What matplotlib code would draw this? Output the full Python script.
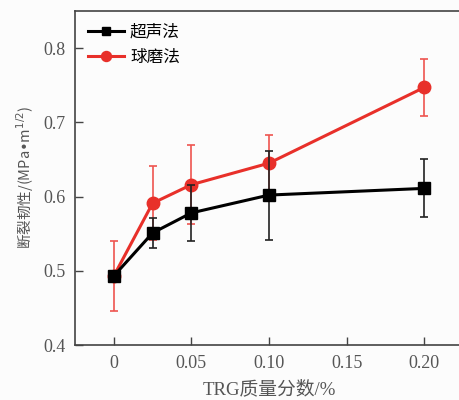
import matplotlib
matplotlib.use("Agg")
import matplotlib.pyplot as plt

x = [0, 0.025, 0.05, 0.10, 0.20]
ultra = [0.493, 0.551, 0.578, 0.602, 0.611]
ultra_err = [0.0, 0.020, 0.038, 0.060, 0.039]
ball = [0.493, 0.591, 0.616, 0.645, 0.747]
ball_err = [0.047, 0.050, 0.053, 0.038, 0.039]
xticks = [0, 0.05, 0.10, 0.15, 0.20]
xticklabels = ["0", "0.05", "0.10", "0.15", "0.20"]
yticks = [0.4, 0.5, 0.6, 0.7, 0.8]

cjk = ["Noto Sans CJK SC", "DejaVu Sans"]
serif = "Liberation Serif"

fig = plt.figure(figsize=(4.59, 4.00), dpi=100)
fig.patch.set_facecolor("#fcfcfc")
ax = fig.add_axes([75/459, 55/400, (463-75)/459, (345-11)/400])
ax.set_facecolor("#fcfcfc")

red = "#e8302a"
c1 = ax.errorbar(x, ultra, yerr=ultra_err, color="black", ecolor="#222222", elinewidth=1.2,
                 capsize=3, capthick=1.2, marker="s", markersize=8, linewidth=2.2,
                 label="超声法", zorder=3)
c2 = ax.errorbar(x, ball, yerr=ball_err, color=red, ecolor="#ee5550", elinewidth=1.2,
                 capsize=3, capthick=1.2, marker="o", markersize=9, linewidth=2.2,
                 label="球磨法", zorder=2)

ax.set_xlim(-0.025, 0.225)
ax.set_ylim(0.4, 0.85)
ax.set_xticks(xticks)
ax.set_xticklabels(xticklabels, fontfamily=serif, fontsize=13, color="#555555")
ax.set_yticks(yticks)
ax.set_yticklabels([f"{v:.1f}" for v in yticks], fontfamily=serif, fontsize=13, color="#555555")
ax.tick_params(direction="in", length=6, width=1, color="#444444", pad=7)
for s in ax.spines.values():
    s.set_color("#444444")
    s.set_linewidth(1.2)

ax.set_xlabel("TRG质量分数/%", family=["Liberation Serif", "Noto Sans CJK SC"], fontsize=13.5,
              color="#555555", labelpad=6)
ax.set_ylabel("断裂韧性/(MPa•m$^{1/2}$)", family=["Noto Sans CJK SC", "Liberation Serif"],
              fontsize=10.5, color="#555555", labelpad=5)

leg = ax.legend([c1.lines[0], c2.lines[0]], ["超声法", "球磨法"], loc="upper left",
                frameon=False, prop={"family": cjk, "size": 12},
                handlelength=2.2, handletextpad=0.35, borderaxespad=0.35,
                labelspacing=0.5, markerscale=0.8)

fig.savefig("out.png", dpi=100, facecolor=fig.get_facecolor())
